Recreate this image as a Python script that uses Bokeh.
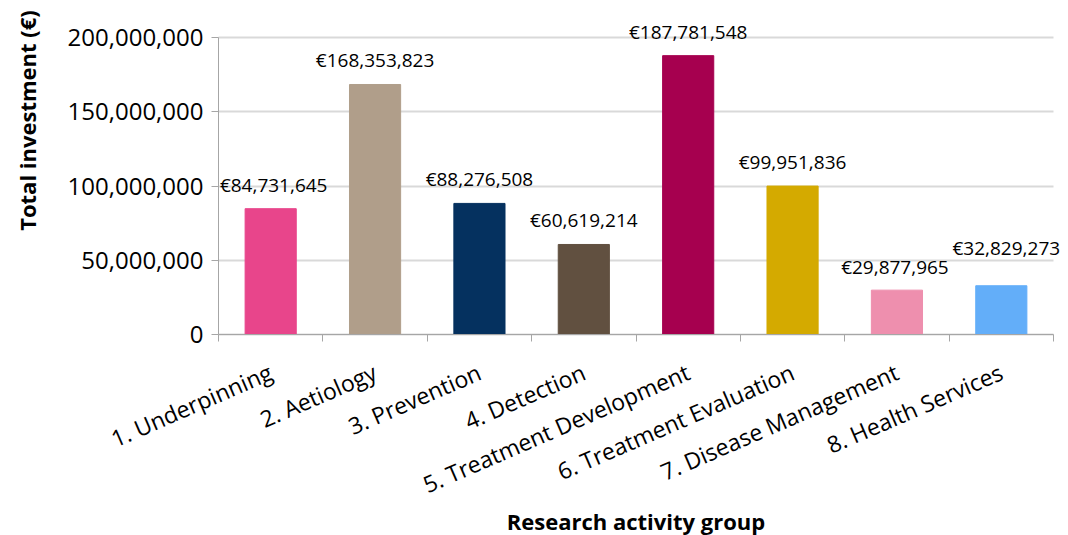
import math
from bokeh.plotting import figure
from bokeh.models import (Range1d, FixedTicker, NumeralTickFormatter, ColumnDataSource, LabelSet,
                          Title, Label, Grid)
from bokeh.core.properties import value
from bokeh.embed import file_html
from bokeh.resources import INLINE

categories = ["1. Underpinning", "2. Aetiology", "3. Prevention", "4. Detection",
              "5. Treatment Development", "6. Treatment Evaluation",
              "7. Disease Management", "8. Health Services"]
investment = [84731645, 168353823, 88276508, 60619214, 187781548, 99951836, 29877965, 32829273]
colors = ["#E8458B", "#B09E8A", "#05315F", "#615040", "#A6004F", "#D4AA00", "#EE8FAE", "#63AEF9"]
y_ticks = [0, 50000000, 100000000, 150000000, 200000000]

# label nudges (styling, in screen pixels) — the last label is lifted to avoid overlap
label_dx = [3, 0, 0, 0, 0, 0, -2, 5]
label_dy = [11, 11, 11, 11, 11, 11, 10, 25]

FONT = "Open Sans"
W, H = 1060, 535
n = len(categories)
xs = [2 * i + 1 for i in range(n)]
YMAX = 200000000
src = ColumnDataSource(dict(x=xs, top=investment, color=colors,
                            label=[f"€{v:,}" for v in investment],
                            dx=label_dx, dy=label_dy))

# layout (pixels): category span 218..1053, value 0 at y=334, YMAX at y=37
L, R, T, B = 218, 1053, 37, 334
HAS_CROSS = "cross_bounds" in Grid.properties()

if HAS_CROSS:
    ux = (R - L) / (2 * n)
    uy = (B - T) / YMAX
    x_range = Range1d(-L / ux, (W - L) / ux)
    y_range = Range1d(-(H - B) / uy, B / uy)
    borders = dict(min_border_left=0, min_border_right=0, min_border_top=0, min_border_bottom=0)
else:
    x_end = 2 * n * (1058 - L) / (R - L)
    x_range = Range1d(0, x_end)
    y_range = Range1d(0, YMAX * (1 + (T - 15) / (B - T)))
    borders = dict(min_border_left=L, min_border_right=W - 1058, min_border_top=15,
                   min_border_bottom=H - B)

p = figure(width=W, height=H, x_range=x_range, y_range=y_range,
           output_backend="svg", toolbar_location=None, **borders)
p.outline_line_color = None
p.background_fill_color = "white"

p.vbar(x="x", top="top", bottom=0, width=0.98, color="color", source=src)
labels = LabelSet(x="x", y="top", text="label", source=src, text_align="center",
                  text_baseline="bottom", x_offset="dx", y_offset="dy", text_font=value(FONT),
                  text_font_size="19px", text_color="#000000")
p.add_layout(labels)

# y axis
p.yaxis.bounds = (0, YMAX)
p.yaxis.ticker = FixedTicker(ticks=y_ticks)
p.yaxis.formatter = NumeralTickFormatter(format="0,0")
p.yaxis.major_label_text_font = FONT
p.yaxis.major_label_text_font_size = "24px"
p.yaxis.major_label_text_color = "#000000"
p.yaxis.axis_line_color = "#A6A6A6"
p.yaxis.major_tick_line_color = "#A6A6A6"
p.yaxis.major_tick_out = 7
p.yaxis.major_tick_in = 0
p.yaxis.minor_tick_line_color = None
p.yaxis.major_label_standoff = 8

# x axis
p.xaxis.bounds = (0, 2 * n)
p.xaxis.ticker = FixedTicker(ticks=xs, minor_ticks=list(range(0, 2 * n + 1, 2)))
p.xaxis.major_label_overrides = {x: c for x, c in zip(xs, categories)}
p.xaxis.major_tick_line_color = None
p.xaxis.minor_tick_line_color = "#A6A6A6"
p.xaxis.minor_tick_out = 7
p.xaxis.minor_tick_in = 0
p.xaxis.axis_line_color = "#A6A6A6"
p.xaxis.major_label_orientation = 0.41
p.xaxis.major_label_text_font = FONT
p.xaxis.major_label_text_font_size = "23px"
p.xaxis.major_label_text_color = "#000000"

p.xgrid.grid_line_color = None
p.ygrid.grid_line_color = "#D9D9D9"
p.ygrid.grid_line_width = 2

title_style = dict(text_font=FONT, text_font_style="bold", text_color="#000000")

if HAS_CROSS:
    p.yaxis.fixed_location = 0
    p.xaxis.fixed_location = 0
    p.xaxis.major_label_standoff = 29
    p.ygrid.cross_bounds = (0, 2 * n)
    # axis titles placed in data space (frame covers the whole canvas)
    p.add_layout(Label(x=(26 - L) / ux, y=(B - 120) / uy, angle=math.pi / 2,
                       text="Total investment (€)", text_align="center", text_baseline="middle",
                       text_font_size="22px", **title_style))
    p.add_layout(Label(x=n, y=(B - 520) / uy, text="Research activity group",
                       text_align="center", text_baseline="middle",
                       text_font_size="22px", **title_style))
else:
    p.xaxis.major_label_standoff = 14
    p.xaxis.axis_label = "Research activity group"
    p.xaxis.axis_label_text_font = FONT
    p.xaxis.axis_label_text_font_style = "bold"
    p.xaxis.axis_label_text_font_size = "22px"
    p.xaxis.axis_label_text_color = "#000000"
    p.xaxis.axis_label_standoff = 0
    p.add_layout(Title(text="Total investment (€)", align="right", standoff=36,
                       text_font_size="22px", **title_style), "left")

open("out.html", "w").write(file_html(p, INLINE))
